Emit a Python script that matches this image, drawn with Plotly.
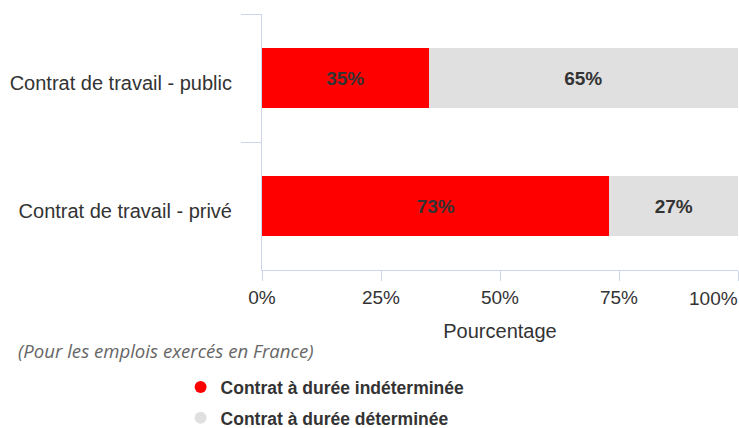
import plotly.graph_objects as go

categories = ["Contrat de travail - public", "Contrat de travail - privé"]
series_names = ["Contrat à durée indéterminée", "Contrat à durée déterminée"]
cdi_values = [35, 73]
cdd_values = [65, 27]
colors = ["#ff0000", "#e0e0e0"]
x_ticks = [0, 25, 50, 75, 100]
x_tick_labels = ["0%", "25%", "50%", "75%", "100%"]
caption = "(Pour les emplois exercés en France)"
x_title = "Pourcentage"

FONT = "Liberation Sans, Arial, sans-serif"
fig = go.Figure()
for name, vals, col in zip(series_names, [cdi_values, cdd_values], colors):
    fig.add_trace(go.Bar(
        y=categories, x=vals, orientation="h", name=name,
        marker=dict(color=col, line=dict(width=0)),
        width=0.47,
        text=[f"<b>{v}%</b>" for v in vals], textposition="inside",
        insidetextanchor="middle",
        textfont=dict(family=FONT, size=19, color="#333333"),
        showlegend=False, hoverinfo="skip",
    ))
for i, (name, col) in enumerate(zip(series_names, colors)):
    fig.add_trace(go.Scatter(
        x=[None], y=[None], mode="markers", name=f"<b>{name}</b>",
        marker=dict(symbol="circle", size=17, color=col),
        legendgroup=f"g{i}", showlegend=True,
    ))

# last tick label is right-aligned to its tick (as in the reference) via an annotation
shown_ticktext = x_tick_labels[:-1] + [""]

fig.update_layout(
    width=739, height=428,
    margin=dict(l=262, r=1, t=14, b=158, autoexpand=False),
    barmode="stack",
    plot_bgcolor="white", paper_bgcolor="white",
    font=dict(family=FONT, size=19, color="#333333"),
    uniformtext=dict(minsize=8, mode="show"),
    xaxis=dict(
        range=[0, 100], tickvals=x_ticks, ticktext=shown_ticktext,
        showgrid=False, zeroline=False,
        showline=True, linecolor="#ccd6eb", linewidth=1,
        ticks="outside", ticklen=10, tickcolor="#ccd6eb",
        tickfont=dict(size=19, color="#333333"),
        title=dict(text=x_title, standoff=17, font=dict(size=20, color="#333333")),
    ),
    yaxis=dict(
        autorange="reversed", showgrid=False, zeroline=False,
        showline=True, linecolor="#ccd6eb", linewidth=1,
        ticks="outside", ticklen=20, tickcolor="#ccd6eb", tickson="boundaries",
        tickfont=dict(size=20, color="#333333"), ticklabelstandoff=25,
        ticklabelshift=-5,
    ),
    legend=dict(
        x=-0.171, y=-0.387, xanchor="left", yanchor="top",
        orientation="v", traceorder="grouped", tracegroupgap=5,
        font=dict(size=17.5, color="#333333"), itemsizing="constant",
    ),
    annotations=[
        dict(
            text=f"<i>{caption}</i>", xref="paper", yref="paper",
            x=(16 - 262) / 476, y=(270 - 350) / 256, xanchor="left", yanchor="middle",
            showarrow=False, font=dict(family="Open Sans, sans-serif", size=18.6, color="#666666"),
        ),
        dict(
            text=x_tick_labels[-1], xref="x", yref="paper",
            x=x_ticks[-1], y=(270 - 298) / 256, xanchor="right", yanchor="middle",
            xshift=2, showarrow=False, font=dict(family=FONT, size=19, color="#333333"),
        ),
    ],
)
fig.write_html("out.html", config={"displayModeBar": False},
               post_script="document.body.style.margin='0';document.body.style.padding='0';")
